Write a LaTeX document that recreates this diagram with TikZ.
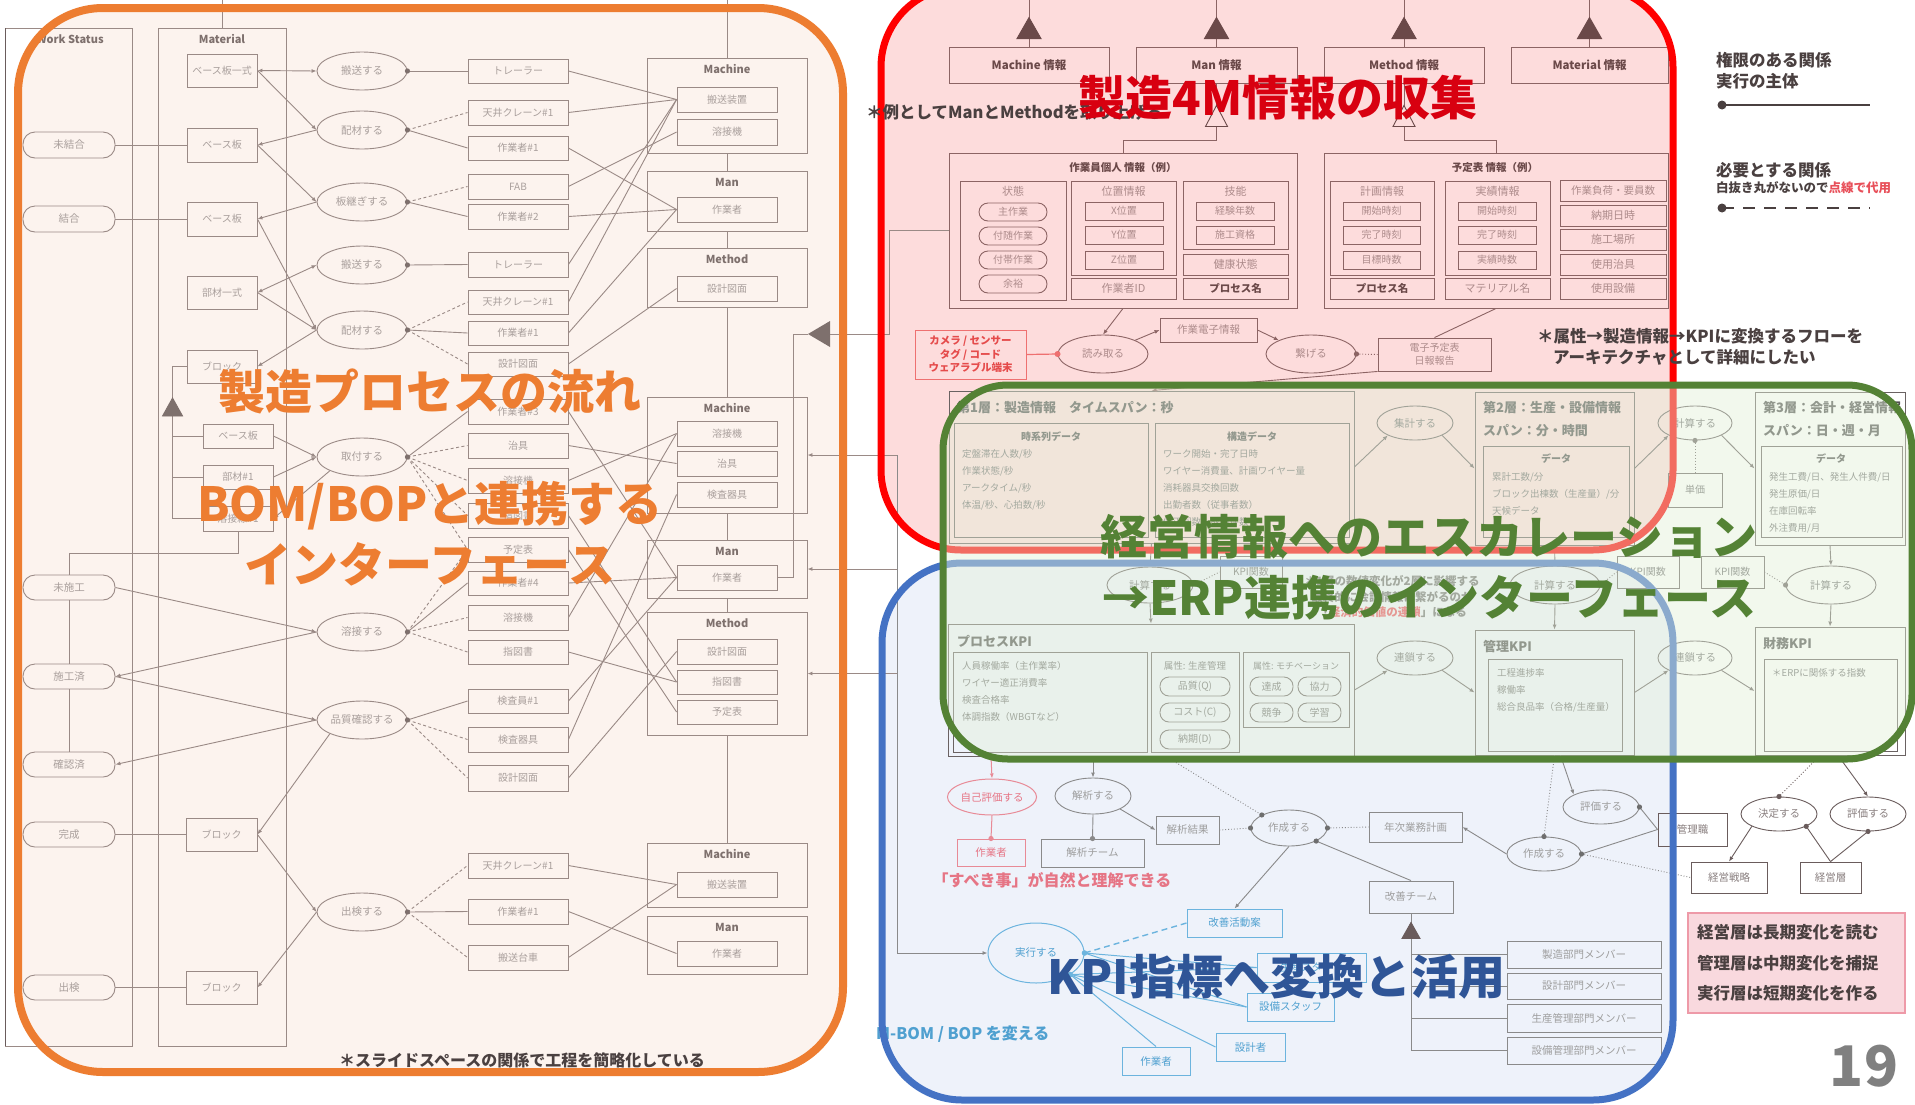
\documentclass[tikz,border=0pt]{standalone}
\usepackage{fontspec}
\setmainfont{Noto Sans CJK JP}
\usetikzlibrary{shapes.geometric,arrows.meta,calc}
\definecolor{orbg}{HTML}{FCF3EE}
\definecolor{rdbg}{HTML}{FDDCDC}
\definecolor{blbg}{HTML}{EEF2FA}
\definecolor{grov}{HTML}{E3F0D9}
\definecolor{ol}{HTML}{9A8A86}
\definecolor{ot}{HTML}{A99F9C}
\definecolor{oh}{HTML}{7E706D}
\definecolor{rl}{HTML}{8C6464}
\definecolor{rt}{HTML}{AD8B8B}
\definecolor{rh}{HTML}{6B4949}
\definecolor{gl}{HTML}{6A6262}
\definecolor{gt}{HTML}{707070}
\definecolor{gh}{HTML}{505050}
\definecolor{bl}{HTML}{8A8A8A}
\definecolor{bt}{HTML}{9E9E9E}
\definecolor{dk}{HTML}{6A5C5C}
\definecolor{dkt}{HTML}{8A8080}
\definecolor{pkl}{HTML}{E88A96}
\definecolor{pkt}{HTML}{E67585}
\definecolor{cy}{HTML}{6CB4DE}
\definecolor{cyt}{HTML}{4FA0D0}
\definecolor{camr}{HTML}{EE7070}
\definecolor{camt}{HTML}{E54B4B}
\definecolor{nt}{HTML}{4A4040}
\definecolor{lgr}{HTML}{E8505A}
\definecolor{tor}{HTML}{ED7D31}
\definecolor{trd}{HTML}{D80010}
\definecolor{brd}{HTML}{FF0000}
\definecolor{tgr}{HTML}{548235}
\definecolor{tbl}{HTML}{2F5597}
\definecolor{bbl}{HTML}{4472C4}
\definecolor{pnkf}{HTML}{F9D9DE}
\definecolor{pnkb}{HTML}{EE9AA8}
\definecolor{pgn}{HTML}{808080}
\tikzset{
 every node/.style={inner sep=0pt},
 sOL/.style={draw=ol,line width=0.9pt},
 sOD/.style={sOL,dash pattern=on 3pt off 2.5pt},
 sOB/.style={draw=ol,fill=orbg,text=ot,line width=0.9pt,font=\fontsize{10}{12}\selectfont},
 sOE/.style={sOB,ellipse,font=\fontsize{10.5}{12}\selectfont},
 sOP/.style={sOB,rounded corners=12pt,font=\fontsize{10.5}{12}\selectfont},
 sOH/.style={text=oh,font=\bfseries\fontsize{11}{13}\selectfont},
 sRL/.style={draw=rl,line width=0.9pt},
 sRB/.style={draw=rl,fill=rdbg,text=rt,line width=0.9pt,font=\fontsize{10}{12}\selectfont},
 sRE/.style={sRB,ellipse,font=\fontsize{10.5}{12}\selectfont},
 sRP/.style={sRB,rounded corners=9pt},
 sRH/.style={text=rh,font=\bfseries\fontsize{10.5}{12}\selectfont},
 sRI/.style={sRB,text=rh,font=\bfseries\fontsize{11.5}{13}\selectfont},
 sRT/.style={text=rt,font=\fontsize{11}{13}\selectfont},
 sRX/.style={sRB,text=rh,font=\bfseries\fontsize{10.5}{12}\selectfont},
 sGL/.style={draw=gl,line width=0.9pt},
 sGB/.style={draw=gl,line width=0.9pt,text=gt,font=\fontsize{10}{12}\selectfont},
 sGE/.style={sGB,ellipse,font=\fontsize{10.5}{12}\selectfont},
 sGP/.style={sGB,rounded corners=9pt},
 sGH/.style={text=gh,font=\bfseries\fontsize{13}{15}\selectfont},
 sGS/.style={text=gh,font=\bfseries\fontsize{10}{12}\selectfont},
 sGT/.style={text=gt,font=\fontsize{9.5}{11}\selectfont,anchor=west},
 sBL/.style={draw=bl,line width=0.9pt},
 sBB/.style={draw=bl,fill=blbg,text=bt,line width=0.9pt,font=\fontsize{10.5}{12}\selectfont},
 sBE/.style={sBB,ellipse},
 sDL/.style={draw=dk,line width=0.9pt},
 sDB/.style={draw=dk,fill=white,text=dkt,line width=0.9pt,font=\fontsize{10.5}{12}\selectfont},
 sDE/.style={sDB,ellipse},
 sPK/.style={draw=pkl,line width=1pt},
 sCY/.style={draw=cy,line width=1pt},
 sCB/.style={draw=cy,fill=blbg,text=cyt,line width=1pt,font=\fontsize{10.5}{12}\selectfont},
 sNT/.style={anchor=west,text=nt,font=\bfseries\fontsize{16.5}{18}\selectfont},
 sTT/.style={font=\bfseries\fontsize{47}{52}\selectfont},
}
\newcommand\BX[7][]{\node[#1,minimum width={(#5)-(#3)},minimum height={(#6)-(#4)}] (#2) at ({((#3)+(#5))/2},{((#4)+(#6))/2}) {#7};}
\newcommand\EL[7][]{\node[#1,minimum width={2*(#5)},minimum height={2*(#6)}] (#2) at (#3,#4) {#7};}
\newcommand\TriUp[5]{\filldraw[draw=#2,fill=#3,line width=0.9pt] ($(#1)+(0,-#5)$) -- ($(#1)+(-#4,0)$) -- ($(#1)+(#4,0)$) -- cycle;}
\newcommand\GRP[4]{\BX[sOB]{#1}{647}{#2}{807}{#3}{}\node[sOH] (#1h) at (727,{(#2)+11}) {#4};}
\begin{document}
\begin{tikzpicture}[x=1pt,y=-1pt,>={Latex[length=5pt,width=4pt]}]
\useasboundingbox (0,0) rectangle (1915,1104);
\clip (0,0) rectangle (1915,1104);
\fill[white] (0,0) rectangle (1915,1104);
\fill[orbg,rounded corners=85pt] (18,8) rectangle (843,1072);
\fill[rdbg,rounded corners=80pt] (881,-13) rectangle (1673,550);
\fill[blbg,rounded corners=80pt] (882,563) rectangle (1673,1100);

%%%%%%%%%%%%%%%% LEFT : production process
\draw[sOL] (5,28) rectangle (132,1046);
\draw[sOL] (158,28) rectangle (286,1046);
\draw[dk,line width=0.9pt] (5,28) -- (5,1046);
\draw[sOL] (222,0) -- (222,28);
\draw[sOL] (727,0) -- (727,843);
\node[sOH] (hws) at (70,39) {Work Status};
\node[sOH] (hmat) at (222,39) {Material};

\BX[sOB]{m1}{187}{54}{257}{87}{ベース板一式}
\BX[sOB]{m2}{187}{128}{257}{162}{ベース板}
\BX[sOB]{m3}{187}{202}{257}{236}{ベース板}
\BX[sOB]{m4}{187}{276}{257}{309}{部材一式}
\BX[sOB]{m5}{187}{350}{257}{383}{ブロック}
\BX[sOB]{m6}{203}{424}{273}{448}{ベース板}
\BX[sOB]{m7}{203}{465}{273}{489}{部材\#1}
\BX[sOB]{m8}{203}{506}{273}{531}{溶接線\#1}
\BX[sOB]{m9}{186}{818}{257}{851}{ブロック}
\BX[sOB]{m10}{186}{971}{257}{1004}{ブロック}

\BX[sOP]{s1}{23}{132}{115}{158}{未結合}
\BX[sOP]{s2}{23}{206}{115}{232}{結合}
\BX[sOP]{s3}{23}{575}{115}{600}{未施工}
\BX[sOP]{s4}{23}{664}{115}{689}{施工済}
\BX[sOP]{s5}{23}{752}{115}{777}{確認済}
\BX[sOP]{s6}{23}{822}{115}{847}{完成}
\BX[sOP]{s7}{23}{975}{115}{1000}{出検}

\draw[sOL] (s1.east) -- (m2.west);
\draw[sOL] (s2.east) -- (m3.west);
\draw[sOL] (s6.east) -- (m9.west);
\draw[sOL] (s7.east) -- (m10.west);
\draw[sOL] (s3.south) -- (s4.north);
\draw[sOL] (s4.south) -- (s5.north);
\draw[sOL] (m8.south) -- ++(0,22) -| (s3.north);
\draw[sOL] (m5.west) -- ++(-14,0) -- ($(m8.west)+(-30,0)$) -- (m8.west);
\draw[sOL] (m6.west) -- ++(-30,0);
\draw[sOL] (m7.west) -- ++(-30,0);
\coordinate (gk) at ($(m6.west)+(-30,-20)$);
\TriUp{gk}{oh}{oh}{10}{18}

\EL[sOE]{p1}{362}{71}{45}{19}{搬送する}
\EL[sOE]{p2}{362}{130}{45}{19}{配材する}
\EL[sOE]{p3}{362}{202}{45}{19}{板継ぎする}
\EL[sOE]{p4}{362}{265}{45}{19}{搬送する}
\EL[sOE]{p5}{362}{330}{45}{19}{配材する}
\EL[sOE]{p6}{362}{457}{45}{19}{取付する}
\EL[sOE]{p7}{362}{632}{45}{19}{溶接する}
\EL[sOE]{p8}{362}{720}{45}{19}{品質確認する}
\EL[sOE]{p9}{362}{912}{45}{19}{出検する}

\draw[sOL,<->] (m1.east) -- (p1.west);
\draw[sOL,->] (m1.east) -- (p2.west);
\draw[sOL,->] (p2.west) -- (m2.east);
\draw[sOL,->] (m2.east) -- (p3.west);
\draw[sOL,->] (p3.west) -- (m3.east);
\draw[sOL,->] (m3.east) -- (p5.west);
\draw[sOL,<->] (m4.east) -- (p4.west);
\draw[sOL,->] (m4.east) -- (p5.west);
\draw[sOL,->] (p5.west) -- (m5.east);
\draw[sOL,->] (m6.east) -- (p6.west);
\draw[sOL,->] (m7.east) -- (p6.west);
\draw[sOL,->] (p6.south west) -- (m8.east);
\draw[sOL,->] (s3.east) -- (p7.west);
\draw[sOL,->] (p7.west) -- (s4.east);
\draw[sOL,->] (s4.east) -- (p8.west);
\draw[sOL,->] (p8.west) -- (s5.east);
\draw[sOL,->] (p8.south west) -- (m9.east);
\draw[sOL,->] (m9.east) -- (p9.west);
\draw[sOL,->] (p9.west) -- (m10.east);

\GRP{ga1}{58}{153}{Machine}
\GRP{gb1}{171}{231}{Man}
\GRP{gc1}{248}{307}{Method}
\GRP{ga2}{397}{513}{Machine}
\GRP{gb2}{540}{598}{Man}
\GRP{gc2}{612}{735}{Method}
\GRP{ga3}{843}{907}{Machine}
\GRP{gb3}{916}{974}{Man}

\BX[sOB]{r1}{468}{59}{568}{83}{トレーラー}
\BX[sOB]{r2}{468}{100}{568}{125}{天井クレーン\#1}
\BX[sOB]{r3}{468}{136}{568}{160}{作業者\#1}
\BX[sOB]{r4}{468}{174}{568}{199}{FAB}
\BX[sOB]{r5}{468}{204}{568}{229}{作業者\#2}
\BX[sOB]{r6}{468}{252}{568}{277}{トレーラー}
\BX[sOB]{r7}{468}{290}{568}{314}{天井クレーン\#1}
\BX[sOB]{r8}{468}{321}{568}{345}{作業者\#1}
\BX[sOB]{r9}{468}{352}{568}{376}{設計図面}
\BX[sOB]{r10}{468}{399}{568}{424}{作業者\#3}
\BX[sOB]{r11}{468}{433}{568}{458}{治具}
\BX[sOB]{r12}{468}{468}{568}{493}{溶接機}
\BX[sOB]{r13}{468}{503}{568}{528}{指図書}
\BX[sOB]{r14}{468}{537}{568}{562}{予定表}
\BX[sOB]{r15}{468}{571}{568}{595}{作業者\#4}
\BX[sOB]{r16}{468}{605}{568}{630}{溶接機}
\BX[sOB]{r17}{468}{640}{568}{664}{指図書}
\BX[sOB]{r18}{468}{689}{568}{713}{検査員\#1}
\BX[sOB]{r19}{468}{727}{568}{752}{検査器具}
\BX[sOB]{r20}{468}{765}{568}{791}{設計図面}
\BX[sOB]{r21}{468}{853}{568}{878}{天井クレーン\#1}
\BX[sOB]{r22}{468}{899}{568}{924}{作業者\#1}
\BX[sOB]{r23}{468}{945}{568}{970}{搬送台車}

\foreach \a/\b in {p1/r1,p2/r3,p3/r5,p4/r6,p5/r8,p6/r10,p7/r15,p8/r18,p9/r22}
  \draw[sOL] (\a.east) -- (\b.west);
\foreach \a/\b in {p2/r2,p3/r4,p5/r7,p5/r9,p6/r11,p6/r12,p6/r13,p6/r14,p7/r14,p7/r16,p7/r17,p8/r19,p8/r20,p9/r21,p9/r23}
  \draw[sOD] (\a.east) -- (\b.west);
\foreach \a in {p1,p2,p3,p4,p5,p6,p7,p8,p9}
  \fill[oh] (\a.east) circle (2.6pt);

\BX[sOB]{g1m1}{677}{87}{777}{112}{搬送装置}
\BX[sOB]{g1m2}{677}{119}{777}{145}{溶接機}
\BX[sOB]{g1p}{677}{197}{777}{222}{作業者}
\BX[sOB]{g1d}{677}{276}{777}{301}{設計図面}
\BX[sOB]{g2m1}{677}{421}{777}{446}{溶接機}
\BX[sOB]{g2m2}{677}{451}{777}{476}{治具}
\BX[sOB]{g2m3}{677}{482}{777}{507}{検査器具}
\BX[sOB]{g2p}{677}{565}{777}{590}{作業者}
\BX[sOB]{g2d1}{677}{639}{777}{664}{設計図面}
\BX[sOB]{g2d2}{677}{670}{777}{694}{指図書}
\BX[sOB]{g2d3}{677}{700}{777}{724}{予定表}
\BX[sOB]{g3m1}{677}{872}{777}{897}{搬送装置}
\BX[sOB]{g3p}{677}{941}{777}{966}{作業者}
\foreach \a/\b in {r1/g1m1,r2/g1m1,r6/g1m1,r7/g1m1,r4/g1m2,r3/g1p,r5/g1p,r8/g1p,r9/g1d,r10/g2p,r11/g2m2,r12/g2m1,r13/g2d2,r14/g2d3,r15/g2p,r16/g2m1,r17/g2d2,r18/g2p,r19/g2m3,r20/g2d1,r21/g3m1,r23/g3m1,r22/g3p}
  \draw[sOL] (\a.east) -- (\b.west);

\coordinate (gtip) at (808,334);
\coordinate (gbase) at (830,334);
\draw[sOL] (g2p.east) -- ++(16,0) |- (gtip);
\fill[oh] (gtip) -- (830,321) -- (830,347) -- cycle;
\foreach \g in {ga2,gb2,gc2}
  \draw[sOL,->] ($(\g.east)+(90,0)$) -- (\g.east);

\node[text=nt,font=\bfseries\fontsize{16}{18}\selectfont] (nsl) at (522,1060) {＊スライドスペースの関係で工程を簡略化している};

%%%%%%%%%%%%%%%% RED : 4M info
\BX[sRB]{pA}{949}{153}{1297}{308}{}
\node[sRH] (pAt) at (1123,168) {作業員個人 情報（例）};
\BX[sRB]{pB}{1324}{153}{1668}{308}{}
\node[sRH] (pBt) at (1495,168) {予定表 情報（例）};
\draw[sOL] (gbase) -| ($(pA.west)+(-59,0)$) -- (pA.west);

\BX[sRI]{i1}{949}{47}{1109}{83}{Machine 情報}
\BX[sRI]{i2}{1136}{47}{1297}{83}{Man 情報}
\BX[sRI]{i3}{1324}{47}{1484}{83}{Method 情報}
\BX[sRI]{i4}{1511}{47}{1668}{83}{Material 情報}
\foreach \n in {i1,i2,i3,i4}{
  \draw[sRL] (\n.north) -- ($(\n.north)+(0,-50)$);
  \coordinate (\n-t) at ($(\n.north)+(0,-8)$);
  \TriUp{\n-t}{rh}{rh}{12}{21}
}
\draw[sRL] (i2.south) -- ($(i2.south)+(0,43)$) coordinate (h2) -- ++(0,14) -| (pA.north);
\draw[sRL] (i3.south) -- ($(i3.south)+(0,43)$) coordinate (h3) -- ++(0,14) -| (pB.north);
\TriUp{h2}{rh}{rdbg}{11}{21}
\TriUp{h3}{rh}{rdbg}{11}{21}

\BX[sRB]{a1}{960}{181}{1066}{300}{}
\node[sRT] (a1h) at (1013,191) {状態};
\BX[sRP]{a11}{979}{203}{1047}{221}{主作業}
\BX[sRP]{a12}{979}{227}{1047}{245}{付随作業}
\BX[sRP]{a13}{979}{251}{1047}{269}{付帯作業}
\BX[sRP]{a14}{979}{275}{1047}{293}{余裕}
\BX[sRB]{a2}{1071}{181}{1176}{275}{}
\node[sRT] (a2h) at (1123.5,191) {位置情報};
\BX[sRB]{a21}{1085}{202}{1163}{220}{X位置}
\BX[sRB]{a22}{1085}{226}{1163}{244}{Y位置}
\BX[sRB]{a23}{1085}{251}{1163}{269}{Z位置}
\BX[sRB,font=\fontsize{11}{13}\selectfont]{a3}{1071}{278}{1176}{299}{作業者ID}
\BX[sRB]{a4}{1183}{181}{1288}{249}{}
\node[sRT] (a4h) at (1235.5,191) {技能};
\BX[sRB]{a41}{1196}{202}{1274}{220}{経験年数}
\BX[sRB]{a42}{1196}{226}{1274}{244}{施工資格}
\BX[sRB,font=\fontsize{11}{13}\selectfont]{a5}{1183}{254}{1288}{275}{健康状態}
\BX[sRX]{a6}{1183}{278}{1288}{299}{プロセス名}

\BX[sRB]{b1}{1330}{181}{1434}{275}{}
\node[sRT] (b1h) at (1382,191) {計画情報};
\BX[sRB]{b11}{1343}{202}{1420}{220}{開始時刻}
\BX[sRB]{b12}{1343}{226}{1420}{244}{完了時刻}
\BX[sRB]{b13}{1343}{251}{1420}{269}{目標時数}
\BX[sRX]{b2}{1330}{278}{1434}{299}{プロセス名}
\BX[sRB]{b3}{1445}{181}{1550}{275}{}
\node[sRT] (b3h) at (1497.5,191) {実績情報};
\BX[sRB]{b31}{1458}{202}{1536}{220}{開始時刻}
\BX[sRB]{b32}{1458}{226}{1536}{244}{完了時刻}
\BX[sRB]{b33}{1458}{251}{1536}{269}{実績時数}
\BX[sRB,font=\fontsize{11}{13}\selectfont]{b4}{1445}{278}{1550}{299}{マテリアル名}
\BX[sRB,font=\fontsize{10.5}{12}\selectfont]{b5}{1560}{180}{1666}{201}{作業負荷・要員数}
\BX[sRB,font=\fontsize{11}{13}\selectfont]{b6}{1560}{205}{1666}{226}{納期日時}
\BX[sRB,font=\fontsize{11}{13}\selectfont]{b7}{1560}{229}{1666}{250}{施工場所}
\BX[sRB,font=\fontsize{11}{13}\selectfont]{b8}{1560}{254}{1666}{275}{使用治具}
\BX[sRB,font=\fontsize{11}{13}\selectfont]{b9}{1560}{278}{1666}{299}{使用設備}

\BX[draw=camr,fill=rdbg,text=camt,line width=1pt,align=center,font=\bfseries\fontsize{10.5}{13.5}\selectfont]{cam}{915}{330}{1026}{379}{カメラ / センサー\\タグ / コード\\ウェアラブル端末}
\EL[sRE]{rd}{1103}{354}{45}{19}{読み取る}
\draw[draw=camr,line width=1.2pt] (cam.east) -- (rd.west);
\fill[camr] (rd.west) circle (3pt);
\draw[sRL,->] (pA.south) -- (rd.north);
\BX[sRB,font=\fontsize{10.5}{12}\selectfont]{ej}{1160}{318}{1257}{342}{作業電子情報}
\draw[sRL,->] (rd.north east) -- (ej.west);
\EL[sRE]{tn}{1311}{354}{45}{19}{繋げる}
\draw[sRL,->] (ej.east) -- (tn.north west);
\BX[sRB,align=center,font=\fontsize{10}{13}\selectfont]{ey}{1378}{338}{1491}{371}{電子予定表\\日報報告}
\draw[sRL,dotted] (tn.east) -- (ey.west);
\fill[rl] (tn.east) circle (2.6pt);
\draw[sRL] (pB.south) -- (ey.north);

%%%%%%%%%%%%%%%% GREEN : layers
\BX[sGB]{L1}{949}{391}{1354}{543}{}
\node[sGH,anchor=west] (L1t) at (957,407) {第1層：製造情報　タイムスパン：秒};
\BX[sGB]{L1a}{954}{423}{1148}{537}{}
\node[sGS] (L1ah) at (1051,437) {時系列データ};
\foreach \t [count=\i] in {定盤滞在人数/秒,作業状態/秒,アークタイム/秒,体温/秒、心拍数/秒}
  \node[sGT] (L1a\i) at (962,{437+17*\i}) {\t};
\BX[sGB]{L1b}{1155}{423}{1349}{537}{}
\node[sGS] (L1bh) at (1252,437) {構造データ};
\foreach \t [count=\i] in {ワーク開始・完了日時,ワイヤー消費量、計画ワイヤー量,消耗器具交換回数,出勤者数（従事者数）,修正回数、故障件数}
  \node[sGT] (L1b\i) at (1163,{437+17*\i}) {\t};
\draw[sRL,->] (ey.south west) -- (L1.north);

\EL[sGE]{sk}{1415}{423}{38}{17}{集計する}
\draw[sGL,->] (L1.east) -- (sk.south west);
\BX[sGB]{L2}{1475}{392}{1634}{545}{}
\node[sGH,anchor=west] (L2t1) at (1483,408) {第2層：生産・設備情報};
\node[sGH,anchor=west] (L2t2) at (1483,431) {スパン：分・時間};
\draw[sGL,->] (sk.south east) -- (L2.west);
\BX[sGB]{L2d}{1483}{446}{1629}{537}{}
\node[sGS] (L2dh) at (1556,459) {データ};
\foreach \t [count=\i] in {累計工数/分,ブロック出棟数（生産量）/分,天候データ}
  \node[sGT] (L2d\i) at (1492,{460+17*\i}) {\t};

\EL[sGE]{ks1}{1695}{423}{37}{17}{計算する}
\draw[sGL,->] (L2.east) -- (ks1.south west);
\BX[sGB]{tanka}{1668}{473}{1722}{507}{単価}
\draw[sGL,dotted] (ks1.south) -- (tanka.north);
\fill[gl] (ks1.south) circle (2.6pt);
\BX[sGB]{L3}{1755}{392}{1905}{545}{}
\node[sGH,anchor=west] (L3t1) at (1763,408) {第3層：会計・経営情報};
\node[sGH,anchor=west] (L3t2) at (1763,431) {スパン：日・週・月};
\draw[sGL,->] (ks1.south east) -- (L3.west);
\BX[sGB]{L3d}{1761}{446}{1902}{537}{}
\node[sGS] (L3dh) at (1831,459) {データ};
\foreach \t [count=\i] in {発生工費/日、発生人件費/日,発生原価/日,在庫回転率,外注費用/月}
  \node[sGT] (L3d\i) at (1769,{460+17*\i}) {\t};

\EL[sGE]{ks2}{1831}{585}{45}{19}{計算する}
\draw[sGL,->] (L3.south) -- (ks2.north);
\BX[sGB]{kf0}{1220}{556}{1282}{588}{KPI関数}
\BX[sGB]{kf1}{1617}{556}{1679}{588}{KPI関数}
\BX[sGB]{kf2}{1701}{556}{1764}{588}{KPI関数}
\draw[sGL,dotted] (kf2.east) -- (ks2.west);
\fill[gl] (ks2.west) circle (2.6pt);
\EL[sGE]{ks3}{1555}{585}{45}{19}{計算する}
\draw[sGL,->] (L2.south) -- (ks3.north);
\draw[sGL,dotted] (ks3.east) -- (kf1.west);
\EL[sGE]{ks4}{1150}{585}{43}{18}{計算する}
\draw[sGL,->] (L1.south) -- (ks4.north);
\draw[sGL,dotted] (ks4.east) -- (kf0.west);
\node[text=gt,font=\bfseries\fontsize{11.5}{15.5}\selectfont,align=center] (nt3) at (1392,597) {＊1層の数値変化が2層に影響する\\最終的に会計情報に繋がるのが\\「\textcolor{lgr}{経済的価値の連鎖}」になる};

\BX[sGB]{pK}{948}{624}{1354}{756}{}
\node[sGH,anchor=west] (pKt) at (957,641) {プロセスKPI};
\BX[sGB]{pK1}{953}{652}{1147}{752}{}
\foreach \t [count=\i] in {人員稼働率（主作業率）,ワイヤー適正消費率,検査合格率,体調指数（WBGTなど）}
  \node[sGT] (pK1\i) at (962,{649+17*\i}) {\t};
\BX[sGB]{pK2}{1151}{652}{1239}{752}{}
\node[sGT,anchor=center] (pK2h) at (1195,666) {属性: 生産管理};
\BX[sGP]{q1}{1160}{677}{1230}{696}{品質(Q)}
\BX[sGP]{q2}{1160}{703}{1230}{722}{コスト(C)}
\BX[sGP]{q3}{1160}{730}{1230}{749}{納期(D)}
\BX[sGB]{pK3}{1243}{652}{1349}{727}{}
\node[sGT,anchor=center,font=\fontsize{9}{11}\selectfont] (pK3h) at (1296,666) {属性: モチベーション};
\BX[sGP]{mo1}{1250}{677}{1293}{696}{達成}
\BX[sGP]{mo2}{1298}{677}{1341}{696}{協力}
\BX[sGP]{mo3}{1250}{703}{1293}{722}{競争}
\BX[sGP]{mo4}{1298}{703}{1341}{722}{学習}

\EL[sGE]{rs1}{1415}{658}{38}{17}{連鎖する}
\draw[sGL,->] (pK.east) -- (rs1.south west);
\BX[sGB]{mK}{1475}{630}{1634}{755}{}
\node[sGH,anchor=west] (mKt) at (1483,646) {管理KPI};
\draw[sGL,->] (rs1.south east) -- (mK.west);
\BX[sGB]{mK1}{1488}{659}{1622}{751}{}
\foreach \t [count=\i] in {工程進捗率,稼働率,総合良品率（合格/生産量）}
  \node[sGT] (mK1\i) at (1497,{656+17*\i}) {\t};
\EL[sGE]{rs2}{1695}{658}{37}{17}{連鎖する}
\draw[sGL,->] (mK.east) -- (rs2.south west);
\BX[sGB]{fK}{1755}{627}{1905}{755}{}
\node[sGH,anchor=west] (fKt) at (1763,644) {財務KPI};
\draw[sGL,->] (rs2.south east) -- (fK.west);
\BX[sGB]{fK1}{1764}{659}{1897}{751}{}
\node[sGT] (fK1a) at (1772,673) {＊ERPに関係する指数};
\draw[sGL,->] (ks3.south) -- (mK.north);
\draw[sGL,->] (ks4.south) -- (pK.north);
\draw[sGL,->] (ks2.south) -- (fK.north);

%%%%%%%%%%%%%%%% BLUE : KPI use
\EL[draw=pkl,fill=blbg,text=pkt,ellipse,line width=1pt,font=\fontsize{10.5}{12}\selectfont]{je}{992}{797}{38}{18}{自己評価する}
\draw[sPK,->] ($(pK.south)+(-160,0)$) -- (je.north);
\BX[draw=pkl,fill=blbg,text=pkt,line width=1pt,font=\fontsize{10.5}{12}\selectfont]{pwk}{957}{839}{1025}{866}{作業者}
\draw[sPK] (je.south) -- (pwk.north);
\fill[pkl] (pwk.north) circle (2.6pt);
\node[text=pkt,font=\bfseries\fontsize{16}{18}\selectfont] (sbk) at (1052,880) {「すべき事」が自然と理解できる};
\EL[sBE]{ka}{1093}{796}{38}{18}{解析する}
\draw[sBL,->] ($(pK.south)+(-58,0)$) -- (ka.north);
\BX[sBB]{kt}{1041}{839}{1144}{867}{解析チーム}
\draw[sBL] (ka.south) -- (kt.north);
\fill[bl] (kt.north) circle (2.6pt);
\BX[sBB]{kr}{1156}{816}{1219}{844}{解析結果}
\draw[sBL,->] (ka.south east) -- (kr.west);
\EL[sBE]{sk1}{1289}{828}{38}{18}{作成する}
\draw[sBL,dotted] (kr.east) -- (sk1.west);
\draw[sBL,dotted] ($(pK.south)+(15,0)$) -- (sk1.north west);
\BX[sBB]{nk}{1369}{812}{1462}{842}{年次業務計画}
\draw[sBL,dotted] (sk1.east) -- (nk.west);
\BX[sBB]{kc}{1369}{881}{1453}{913}{改善チーム}
\draw[sBL] (sk1.south east) -- (kc.north);
\BX[sCB]{ka2}{1187}{909}{1282}{937}{改善活動案}
\draw[sBL,->] (sk1.south) -- (ka2.north);
\foreach \a in {sk1.west,sk1.north west,sk1.east,sk1.south east}
  \fill[bl!80!black] (\a) circle (2.6pt);
\EL[sCB,ellipse]{ex}{1036}{953}{48}{30}{実行する}
\draw[sCY,dash pattern=on 6pt off 4pt,line width=1.4pt] (ka2.west) -- (ex.east);
\BX[sCB]{st1}{1257}{953}{1366}{982}{生産スタッフ}
\BX[sCB]{st2}{1247}{993}{1334}{1021}{設備スタッフ}
\BX[sCB]{st3}{1216}{1033}{1285}{1061}{設計者}
\BX[sCB]{st4}{1122}{1047}{1190}{1075}{作業者}
\draw[sCY] (ex.east) -- (st1.west);
\draw[sCY] (ex.east) -- (st2.west);
\draw[sCY] (ex.south east) -- (st1.west);
\draw[sCY] (ex.south east) -- (st2.west);
\draw[sCY] (ex.south east) -- (st3.west);
\draw[sCY] (ex.south east) -- (st4.north);
\fill[cy] (ex.east) circle (2.8pt);
\fill[cy] (ex.south east) circle (2.8pt);
\node[text=cyt,font=\bfseries\fontsize{16}{18}\selectfont,anchor=west] (mbom) at (876,1034) {M-BOM / BOP を変える};
\draw[sBL,->] ($(ga2.east)+(90,0)$) |- (ex.west);

\BX[sBB]{mb1}{1507}{941}{1661}{968}{製造部門メンバー}
\BX[sBB]{mb2}{1507}{973}{1661}{999}{設計部門メンバー}
\BX[sBB]{mb3}{1507}{1004}{1661}{1032}{生産管理部門メンバー}
\BX[sBB]{mb4}{1507}{1037}{1661}{1064}{設備管理部門メンバー}
\coordinate (kt0) at ($(kc.south)+(0,25)$);
\draw[sBL] (kc.south) -- (kt0);
\foreach \m in {mb1,mb2,mb3,mb4}
  \draw[sBL] (\m.west) -| (kt0);
\TriUp{kt0}{dk}{dk}{9}{16}

\EL[sBE]{sk2}{1544}{854}{37}{17}{作成する}
\draw[sBL,->] (sk2.west) -- (nk.east);
\draw[sBL,dotted] (mK.south) -- (sk2.north);
\EL[sBE]{hk}{1601}{807}{38}{17}{評価する}
\draw[sBL,->] ($(mK.south)+(6,0)$) -- (hk.north west);
\BX[sDB,fill=none]{kn}{1658}{813}{1727}{846}{管理職}
\draw[sBL] (hk.east) -- (kn.west);
\draw[sBL] (sk2.east) -- (kn.west);
\BX[sDB]{ks}{1691}{862}{1767}{893}{経営戦略}
\draw[sBL,dotted] (sk2.east) -- (ks.west);
\foreach \a in {sk2.north,sk2.east,hk.east}
  \fill[bl!80!black] (\a) circle (2.6pt);
\EL[sDE]{kd}{1779}{814}{38}{17}{決定する}
\draw[sDL,dotted] ($(fK.south)+(-10,0)$) -- (kd.north);
\draw[sDL,->] (kd.south west) -- (ks.north);
\BX[sDB]{kss}{1800}{862}{1861}{893}{経営層}
\draw[sDL] (kd.south east) -- (kss.north);
\EL[sDE]{hk2}{1868}{814}{38}{17}{評価する}
\draw[sDL,->] ($(fK.south)+(8,0)$) -- (hk2.north);
\draw[sDL] (hk2.south) -- (kss.north);
\foreach \a in {kd.north,kd.south east,hk2.south}
  \fill[dk] (\a) circle (2.6pt);

\BX[draw=pnkb,fill=pnkf,line width=1.2pt]{nb}{1688}{913}{1905}{1013}{}
\node[anchor=west,align=left,text=nt,font=\bfseries\fontsize{16.5}{30.5}\selectfont] (nbt) at (1697,963) {経営層は長期変化を読む\\管理層は中期変化を捕捉\\実行層は短期変化を作る};
\node[text=pgn,font=\bfseries\fontsize{56}{60}\selectfont] (pg) at (1864,1066) {19};

%%%%%%%%%%%%%%%% region borders
\draw[tor,line width=8pt,rounded corners=85pt] (18,8) rectangle (843,1072);
\draw[brd,line width=7pt,rounded corners=80pt] (881,-13) rectangle (1673,550);
\draw[bbl,line width=7pt,rounded corners=80pt] (882,563) rectangle (1673,1100);
\fill[grov,fill opacity=0.45,rounded corners=65pt] (943,385) rectangle (1912,759);
\draw[tgr,line width=7pt,rounded corners=65pt] (943,385) rectangle (1912,759);

%%%%%%%%%%%%%%%% notes and legend
\node[sNT] (ntA) at (866,112) {＊例としてManとMethodを取り上げる};
\node[sNT] (ntB1) at (1537,336) {＊属性→製造情報→KPIに変換するフローを};
\node[sNT] (ntB2) at (1553,357) {アーキテクチャとして詳細にしたい};
\node[sNT,align=left,font=\bfseries\fontsize{16.5}{21}\selectfont] (lg1) at (1716,71) {権限のある関係\\実行の主体};
\coordinate (lga) at (1722,105);
\coordinate (lgb) at (1870,105);
\draw[nt,line width=2.5pt] (lga) -- (lgb);
\fill[nt] (lga) circle (4.5pt);
\node[sNT] (lg2) at (1716,170) {必要とする関係};
\node[sNT,font=\bfseries\fontsize{12.5}{14}\selectfont] (lg3) at (1716,188) {白抜き丸がないので\textcolor{lgr}{点線で代用}};
\coordinate (lgc) at (1722,208);
\coordinate (lgd) at (1870,208);
\draw[nt,line width=2.5pt,dash pattern=on 12pt off 9pt] (lgc) -- (lgd);
\fill[nt] (lgc) circle (4.5pt);

%%%%%%%%%%%%%%%% big titles
\node[sTT,text=tor] (T1) at (430,391) {製造プロセスの流れ};
\node[sTT,text=tor] (T2) at (430,506) {BOM/BOPと連携する};
\node[sTT,text=tor] (T3) at (430,564) {インターフェース};
\node[sTT,text=trd] (T4) at (1278,98) {製造4M情報の収集};
\node[sTT,text=tgr] (T5) at (1429,537) {経営情報へのエスカレーション};
\node[sTT,text=tgr] (T6) at (1429,598) {→ERP連携のインターフェース};
\node[sTT,text=tbl] (T7) at (1276,977) {KPI指標へ変換と活用};
\end{tikzpicture}
\end{document}
